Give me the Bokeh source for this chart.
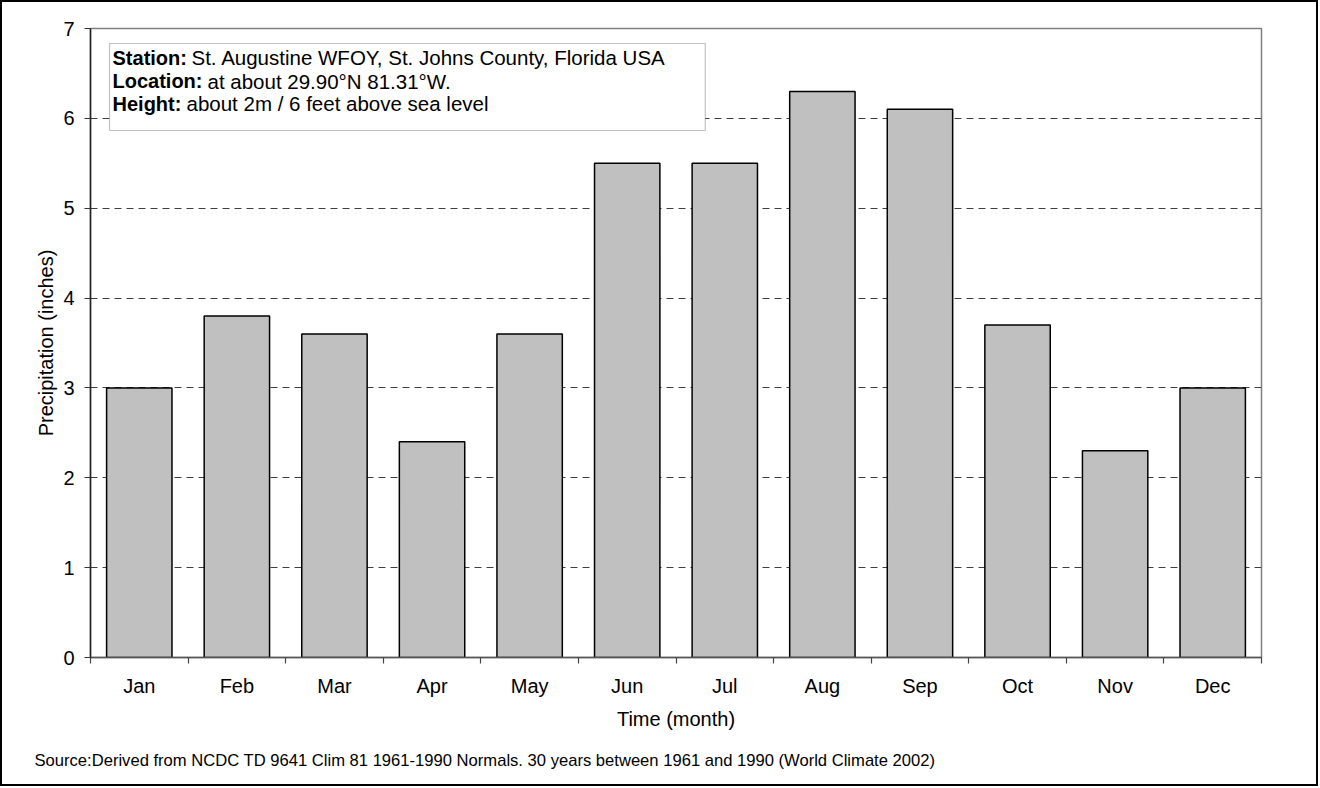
from bokeh.plotting import figure
from bokeh.models import Range1d, FixedTicker, Label, BoxAnnotation, Title
from bokeh.embed import file_html
from bokeh.resources import INLINE

months = ["Jan", "Feb", "Mar", "Apr", "May", "Jun", "Jul", "Aug", "Sep", "Oct", "Nov", "Dec"]
precip = [3.0, 3.8, 3.6, 2.4, 3.6, 5.5, 5.5, 6.3, 6.1, 3.7, 2.3, 3.0]
y_ticks = [0, 1, 2, 3, 4, 5, 6, 7]
info_bold = ["Station:", "Location:", "Height:"]
info_text = ["St. Augustine WFOY, St. Johns County, Florida USA",
             "at about 29.90°N 81.31°W.",
             "about 2m / 6 feet above sea level"]
source_text = "Source:Derived from NCDC TD 9641 Clim 81 1961-1990 Normals. 30 years between 1961 and 1990 (World Climate 2002)"

FONT = "Liberation Sans"

p = figure(width=1318, height=786, output_backend="svg", toolbar_location=None,
           x_range=Range1d(0, len(months)), y_range=Range1d(0, 7),
           min_border_left=88, min_border_right=59, min_border_top=26, min_border_bottom=131)
p.styles = {"border": "2px solid black"}
p.background_fill_color = "white"
p.border_fill_color = "white"
p.outline_line_color = "#808080"
p.outline_line_width = 1.5

centers = [i + 0.5 for i in range(len(months))]
p.vbar(x=centers, top=precip, width=0.67, bottom=0,
       fill_color="#C0C0C0", line_color="black", line_width=1.5)

# x axis
xa = p.xaxis[0]
xa.ticker = FixedTicker(ticks=centers, minor_ticks=list(range(len(months) + 1)))
xa.major_label_overrides = {c: m for c, m in zip(centers, months)}
xa.major_tick_out = 0
xa.major_tick_in = 0
xa.minor_tick_out = 6
xa.minor_tick_in = 0
xa.minor_tick_line_color = "#444444"
xa.minor_tick_line_width = 1.2
xa.axis_line_color = "#555555"
xa.axis_line_width = 1.5
xa.major_label_standoff = 11
xa.major_label_text_font = FONT
xa.major_label_text_font_size = "20px"
xa.major_label_text_color = "black"
xa.axis_label = "Time (month)"
xa.axis_label_text_font = FONT
xa.axis_label_text_font_size = "20px"
xa.axis_label_text_font_style = "normal"
xa.axis_label_text_color = "black"
xa.axis_label_standoff = 8

# y axis
ya = p.yaxis[0]
ya.ticker = FixedTicker(ticks=y_ticks)
ya.major_tick_out = 6
ya.major_tick_in = 0
ya.minor_tick_out = 0
ya.minor_tick_in = 0
ya.major_tick_line_color = "#333333"
ya.major_tick_line_width = 1.2
ya.axis_line_color = "#222222"
ya.axis_line_width = 1.5
ya.major_label_standoff = 10
ya.major_label_text_font = FONT
ya.major_label_text_font_size = "20px"
ya.major_label_text_color = "black"
ya.axis_label = "Precipitation (inches)"
ya.axis_label_text_font = FONT
ya.axis_label_text_font_size = "20px"
ya.axis_label_text_font_style = "normal"
ya.axis_label_text_color = "black"
ya.axis_label_standoff = 3

p.xgrid.visible = False
p.ygrid.ticker = FixedTicker(ticks=y_ticks[1:-1])
p.ygrid.grid_line_color = "#404040"
p.ygrid.grid_line_dash = "7 5"
p.ygrid.grid_line_width = 1

# info box
box = BoxAnnotation(left=0.195, right=6.30, top=6.833, bottom=5.865,
                    fill_color="white", fill_alpha=1.0,
                    line_color="#333333", line_width=1.2, level="annotation")
p.add_layout(box)

ys = [6.675, 6.415, 6.165]
offsets = [79, 95, 74]
for b, t, yy, off in zip(info_bold, info_text, ys, offsets):
    p.add_layout(Label(x=0.2255, y=yy, text=b, text_font=FONT, text_font_size="20px",
                       text_font_style="bold", text_color="black", text_baseline="alphabetic"))
    p.add_layout(Label(x=0.2255, y=yy, x_offset=off, text=t, text_font=FONT, text_font_size="20.5px",
                       text_color="black", text_baseline="alphabetic"))

src = Title(text=source_text, align="left", offset=-56, standoff=32,
            text_font=FONT, text_font_size="16.6px", text_font_style="normal", text_color="black")
p.add_layout(src, "below")

open("out.html", "w").write(file_html(p, INLINE))
